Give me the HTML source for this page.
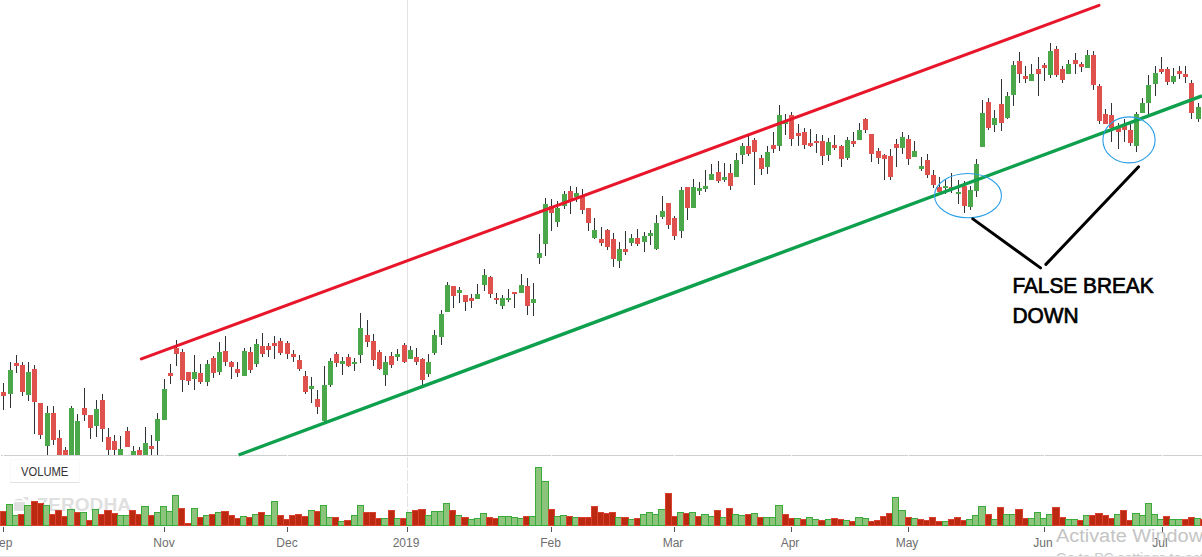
<!DOCTYPE html>
<html><head><meta charset="utf-8"><style>
html,body{margin:0;padding:0;background:#fff;width:1202px;height:557px;overflow:hidden}
svg{display:block;font-family:"Liberation Sans",sans-serif}
</style></head><body>
<svg width="1202" height="557" viewBox="0 0 1202 557">
<rect x="0" y="0" width="1202" height="557" fill="#fff"/>
<rect x="407" y="0" width="1" height="456" fill="#e3e3e3"/>
<line x1="407.5" y1="457" x2="407.5" y2="526" stroke="#e3e3e3" stroke-width="1" stroke-dasharray="11 2"/>
<g fill="#e0e0e0">
<path d="M14 500.6 Q19 496.6 24 500.6 Z"/>
<rect x="14" y="502" width="11" height="9"/>
<path d="M22.5 497 L28.2 497 L28.2 501.2 Z"/>
<text x="36.5" y="510.6" font-size="18.2" font-weight="bold" textLength="94.5" lengthAdjust="spacingAndGlyphs">ZERODHA</text>
</g>
<g>
<rect x="0.5" y="511.5" width="6" height="14" fill="#bb2a10" stroke="#d94030" stroke-width="1"/>
<rect x="6.5" y="504.5" width="6" height="21" fill="#8dc47b" stroke="#3aab3a" stroke-width="1"/>
<rect x="12.5" y="515.5" width="6" height="10" fill="#8dc47b" stroke="#3aab3a" stroke-width="1"/>
<rect x="18.5" y="514.5" width="6" height="11" fill="#bb2a10" stroke="#d94030" stroke-width="1"/>
<rect x="24.5" y="505.5" width="7" height="20" fill="#8dc47b" stroke="#3aab3a" stroke-width="1"/>
<rect x="31.5" y="501.5" width="6" height="24" fill="#bb2a10" stroke="#d94030" stroke-width="1"/>
<rect x="37.5" y="503.5" width="6" height="22" fill="#bb2a10" stroke="#d94030" stroke-width="1"/>
<rect x="43.5" y="505.5" width="6" height="20" fill="#8dc47b" stroke="#3aab3a" stroke-width="1"/>
<rect x="49.5" y="514.5" width="6" height="11" fill="#bb2a10" stroke="#d94030" stroke-width="1"/>
<rect x="55.5" y="510.5" width="6" height="15" fill="#bb2a10" stroke="#d94030" stroke-width="1"/>
<rect x="61.5" y="516.5" width="6" height="9" fill="#bb2a10" stroke="#d94030" stroke-width="1"/>
<rect x="67.5" y="509.5" width="7" height="16" fill="#8dc47b" stroke="#3aab3a" stroke-width="1"/>
<rect x="74.5" y="512.5" width="6" height="13" fill="#bb2a10" stroke="#d94030" stroke-width="1"/>
<rect x="80.5" y="512.5" width="6" height="13" fill="#8dc47b" stroke="#3aab3a" stroke-width="1"/>
<rect x="86.5" y="520.5" width="6" height="5" fill="#bb2a10" stroke="#d94030" stroke-width="1"/>
<rect x="92.5" y="509.5" width="6" height="16" fill="#8dc47b" stroke="#3aab3a" stroke-width="1"/>
<rect x="98.5" y="514.5" width="6" height="11" fill="#bb2a10" stroke="#d94030" stroke-width="1"/>
<rect x="104.5" y="510.5" width="7" height="15" fill="#bb2a10" stroke="#d94030" stroke-width="1"/>
<rect x="111.5" y="513.5" width="6" height="12" fill="#bb2a10" stroke="#d94030" stroke-width="1"/>
<rect x="117.5" y="515.5" width="6" height="10" fill="#8dc47b" stroke="#3aab3a" stroke-width="1"/>
<rect x="123.5" y="515.5" width="6" height="10" fill="#8dc47b" stroke="#3aab3a" stroke-width="1"/>
<rect x="129.5" y="510.5" width="6" height="15" fill="#bb2a10" stroke="#d94030" stroke-width="1"/>
<rect x="135.5" y="514.5" width="6" height="11" fill="#bb2a10" stroke="#d94030" stroke-width="1"/>
<rect x="141.5" y="506.5" width="7" height="19" fill="#8dc47b" stroke="#3aab3a" stroke-width="1"/>
<rect x="148.5" y="515.5" width="6" height="10" fill="#bb2a10" stroke="#d94030" stroke-width="1"/>
<rect x="154.5" y="512.5" width="6" height="13" fill="#8dc47b" stroke="#3aab3a" stroke-width="1"/>
<rect x="160.5" y="506.5" width="6" height="19" fill="#8dc47b" stroke="#3aab3a" stroke-width="1"/>
<rect x="166.5" y="511.5" width="6" height="14" fill="#8dc47b" stroke="#3aab3a" stroke-width="1"/>
<rect x="172.5" y="495.5" width="6" height="30" fill="#8dc47b" stroke="#3aab3a" stroke-width="1"/>
<rect x="178.5" y="508.5" width="6" height="17" fill="#bb2a10" stroke="#d94030" stroke-width="1"/>
<rect x="184.5" y="523.5" width="7" height="2" fill="#bb2a10" stroke="#d94030" stroke-width="1"/>
<rect x="191.5" y="508.5" width="6" height="17" fill="#8dc47b" stroke="#3aab3a" stroke-width="1"/>
<rect x="197.5" y="517.5" width="6" height="8" fill="#bb2a10" stroke="#d94030" stroke-width="1"/>
<rect x="203.5" y="515.5" width="6" height="10" fill="#8dc47b" stroke="#3aab3a" stroke-width="1"/>
<rect x="209.5" y="514.5" width="6" height="11" fill="#bb2a10" stroke="#d94030" stroke-width="1"/>
<rect x="215.5" y="512.5" width="6" height="13" fill="#8dc47b" stroke="#3aab3a" stroke-width="1"/>
<rect x="221.5" y="511.5" width="7" height="14" fill="#bb2a10" stroke="#d94030" stroke-width="1"/>
<rect x="228.5" y="515.5" width="6" height="10" fill="#bb2a10" stroke="#d94030" stroke-width="1"/>
<rect x="234.5" y="518.5" width="6" height="7" fill="#bb2a10" stroke="#d94030" stroke-width="1"/>
<rect x="240.5" y="516.5" width="6" height="9" fill="#8dc47b" stroke="#3aab3a" stroke-width="1"/>
<rect x="246.5" y="517.5" width="6" height="8" fill="#bb2a10" stroke="#d94030" stroke-width="1"/>
<rect x="252.5" y="514.5" width="6" height="11" fill="#8dc47b" stroke="#3aab3a" stroke-width="1"/>
<rect x="258.5" y="512.5" width="6" height="13" fill="#bb2a10" stroke="#d94030" stroke-width="1"/>
<rect x="264.5" y="515.5" width="7" height="10" fill="#8dc47b" stroke="#3aab3a" stroke-width="1"/>
<rect x="271.5" y="501.5" width="6" height="24" fill="#8dc47b" stroke="#3aab3a" stroke-width="1"/>
<rect x="277.5" y="515.5" width="6" height="10" fill="#bb2a10" stroke="#d94030" stroke-width="1"/>
<rect x="283.5" y="519.5" width="6" height="6" fill="#bb2a10" stroke="#d94030" stroke-width="1"/>
<rect x="289.5" y="515.5" width="6" height="10" fill="#bb2a10" stroke="#d94030" stroke-width="1"/>
<rect x="295.5" y="514.5" width="6" height="11" fill="#bb2a10" stroke="#d94030" stroke-width="1"/>
<rect x="301.5" y="516.5" width="7" height="9" fill="#bb2a10" stroke="#d94030" stroke-width="1"/>
<rect x="308.5" y="510.5" width="6" height="15" fill="#8dc47b" stroke="#3aab3a" stroke-width="1"/>
<rect x="314.5" y="511.5" width="6" height="14" fill="#bb2a10" stroke="#d94030" stroke-width="1"/>
<rect x="320.5" y="505.5" width="6" height="20" fill="#8dc47b" stroke="#3aab3a" stroke-width="1"/>
<rect x="326.5" y="517.5" width="6" height="8" fill="#8dc47b" stroke="#3aab3a" stroke-width="1"/>
<rect x="332.5" y="517.5" width="6" height="8" fill="#bb2a10" stroke="#d94030" stroke-width="1"/>
<rect x="338.5" y="521.5" width="6" height="4" fill="#8dc47b" stroke="#3aab3a" stroke-width="1"/>
<rect x="344.5" y="520.5" width="7" height="5" fill="#bb2a10" stroke="#d94030" stroke-width="1"/>
<rect x="351.5" y="515.5" width="6" height="10" fill="#8dc47b" stroke="#3aab3a" stroke-width="1"/>
<rect x="357.5" y="505.5" width="6" height="20" fill="#8dc47b" stroke="#3aab3a" stroke-width="1"/>
<rect x="363.5" y="512.5" width="6" height="13" fill="#bb2a10" stroke="#d94030" stroke-width="1"/>
<rect x="369.5" y="512.5" width="6" height="13" fill="#bb2a10" stroke="#d94030" stroke-width="1"/>
<rect x="375.5" y="518.5" width="6" height="7" fill="#bb2a10" stroke="#d94030" stroke-width="1"/>
<rect x="381.5" y="518.5" width="7" height="7" fill="#8dc47b" stroke="#3aab3a" stroke-width="1"/>
<rect x="388.5" y="510.5" width="6" height="15" fill="#bb2a10" stroke="#d94030" stroke-width="1"/>
<rect x="394.5" y="518.5" width="6" height="7" fill="#8dc47b" stroke="#3aab3a" stroke-width="1"/>
<rect x="400.5" y="518.5" width="6" height="7" fill="#bb2a10" stroke="#d94030" stroke-width="1"/>
<rect x="406.5" y="512.5" width="6" height="13" fill="#8dc47b" stroke="#3aab3a" stroke-width="1"/>
<rect x="412.5" y="510.5" width="6" height="15" fill="#bb2a10" stroke="#d94030" stroke-width="1"/>
<rect x="418.5" y="509.5" width="7" height="16" fill="#bb2a10" stroke="#d94030" stroke-width="1"/>
<rect x="425.5" y="515.5" width="6" height="10" fill="#8dc47b" stroke="#3aab3a" stroke-width="1"/>
<rect x="431.5" y="511.5" width="6" height="14" fill="#8dc47b" stroke="#3aab3a" stroke-width="1"/>
<rect x="437.5" y="511.5" width="6" height="14" fill="#8dc47b" stroke="#3aab3a" stroke-width="1"/>
<rect x="443.5" y="503.5" width="6" height="22" fill="#8dc47b" stroke="#3aab3a" stroke-width="1"/>
<rect x="449.5" y="510.5" width="6" height="15" fill="#bb2a10" stroke="#d94030" stroke-width="1"/>
<rect x="455.5" y="515.5" width="6" height="10" fill="#8dc47b" stroke="#3aab3a" stroke-width="1"/>
<rect x="461.5" y="517.5" width="7" height="8" fill="#bb2a10" stroke="#d94030" stroke-width="1"/>
<rect x="468.5" y="519.5" width="6" height="6" fill="#8dc47b" stroke="#3aab3a" stroke-width="1"/>
<rect x="474.5" y="518.5" width="6" height="7" fill="#8dc47b" stroke="#3aab3a" stroke-width="1"/>
<rect x="480.5" y="513.5" width="6" height="12" fill="#8dc47b" stroke="#3aab3a" stroke-width="1"/>
<rect x="486.5" y="517.5" width="6" height="8" fill="#bb2a10" stroke="#d94030" stroke-width="1"/>
<rect x="492.5" y="518.5" width="6" height="7" fill="#bb2a10" stroke="#d94030" stroke-width="1"/>
<rect x="498.5" y="516.5" width="7" height="9" fill="#8dc47b" stroke="#3aab3a" stroke-width="1"/>
<rect x="505.5" y="516.5" width="6" height="9" fill="#8dc47b" stroke="#3aab3a" stroke-width="1"/>
<rect x="511.5" y="517.5" width="6" height="8" fill="#8dc47b" stroke="#3aab3a" stroke-width="1"/>
<rect x="517.5" y="518.5" width="6" height="7" fill="#8dc47b" stroke="#3aab3a" stroke-width="1"/>
<rect x="523.5" y="516.5" width="6" height="9" fill="#bb2a10" stroke="#d94030" stroke-width="1"/>
<rect x="529.5" y="516.5" width="6" height="9" fill="#8dc47b" stroke="#3aab3a" stroke-width="1"/>
<rect x="535.5" y="467.5" width="6" height="58" fill="#8dc47b" stroke="#3aab3a" stroke-width="1"/>
<rect x="541.5" y="481.5" width="7" height="44" fill="#8dc47b" stroke="#3aab3a" stroke-width="1"/>
<rect x="548.5" y="509.5" width="6" height="16" fill="#bb2a10" stroke="#d94030" stroke-width="1"/>
<rect x="554.5" y="516.5" width="6" height="9" fill="#8dc47b" stroke="#3aab3a" stroke-width="1"/>
<rect x="560.5" y="515.5" width="6" height="10" fill="#8dc47b" stroke="#3aab3a" stroke-width="1"/>
<rect x="566.5" y="516.5" width="6" height="9" fill="#bb2a10" stroke="#d94030" stroke-width="1"/>
<rect x="572.5" y="517.5" width="6" height="8" fill="#8dc47b" stroke="#3aab3a" stroke-width="1"/>
<rect x="578.5" y="517.5" width="7" height="8" fill="#bb2a10" stroke="#d94030" stroke-width="1"/>
<rect x="585.5" y="517.5" width="6" height="8" fill="#bb2a10" stroke="#d94030" stroke-width="1"/>
<rect x="591.5" y="506.5" width="6" height="19" fill="#bb2a10" stroke="#d94030" stroke-width="1"/>
<rect x="597.5" y="512.5" width="6" height="13" fill="#bb2a10" stroke="#d94030" stroke-width="1"/>
<rect x="603.5" y="513.5" width="6" height="12" fill="#bb2a10" stroke="#d94030" stroke-width="1"/>
<rect x="609.5" y="512.5" width="6" height="13" fill="#bb2a10" stroke="#d94030" stroke-width="1"/>
<rect x="615.5" y="517.5" width="6" height="8" fill="#8dc47b" stroke="#3aab3a" stroke-width="1"/>
<rect x="621.5" y="517.5" width="7" height="8" fill="#bb2a10" stroke="#d94030" stroke-width="1"/>
<rect x="628.5" y="519.5" width="6" height="6" fill="#8dc47b" stroke="#3aab3a" stroke-width="1"/>
<rect x="634.5" y="518.5" width="6" height="7" fill="#bb2a10" stroke="#d94030" stroke-width="1"/>
<rect x="640.5" y="514.5" width="6" height="11" fill="#8dc47b" stroke="#3aab3a" stroke-width="1"/>
<rect x="646.5" y="512.5" width="6" height="13" fill="#8dc47b" stroke="#3aab3a" stroke-width="1"/>
<rect x="652.5" y="514.5" width="6" height="11" fill="#8dc47b" stroke="#3aab3a" stroke-width="1"/>
<rect x="658.5" y="509.5" width="7" height="16" fill="#8dc47b" stroke="#3aab3a" stroke-width="1"/>
<rect x="665.5" y="493.5" width="6" height="32" fill="#bb2a10" stroke="#d94030" stroke-width="1"/>
<rect x="671.5" y="516.5" width="6" height="9" fill="#bb2a10" stroke="#d94030" stroke-width="1"/>
<rect x="677.5" y="512.5" width="6" height="13" fill="#8dc47b" stroke="#3aab3a" stroke-width="1"/>
<rect x="683.5" y="513.5" width="6" height="12" fill="#bb2a10" stroke="#d94030" stroke-width="1"/>
<rect x="689.5" y="512.5" width="6" height="13" fill="#8dc47b" stroke="#3aab3a" stroke-width="1"/>
<rect x="695.5" y="516.5" width="6" height="9" fill="#bb2a10" stroke="#d94030" stroke-width="1"/>
<rect x="701.5" y="514.5" width="7" height="11" fill="#8dc47b" stroke="#3aab3a" stroke-width="1"/>
<rect x="708.5" y="516.5" width="6" height="9" fill="#8dc47b" stroke="#3aab3a" stroke-width="1"/>
<rect x="714.5" y="510.5" width="6" height="15" fill="#bb2a10" stroke="#d94030" stroke-width="1"/>
<rect x="720.5" y="517.5" width="6" height="8" fill="#8dc47b" stroke="#3aab3a" stroke-width="1"/>
<rect x="726.5" y="508.5" width="6" height="17" fill="#bb2a10" stroke="#d94030" stroke-width="1"/>
<rect x="732.5" y="514.5" width="6" height="11" fill="#8dc47b" stroke="#3aab3a" stroke-width="1"/>
<rect x="738.5" y="515.5" width="7" height="10" fill="#8dc47b" stroke="#3aab3a" stroke-width="1"/>
<rect x="745.5" y="514.5" width="6" height="11" fill="#bb2a10" stroke="#d94030" stroke-width="1"/>
<rect x="751.5" y="513.5" width="6" height="12" fill="#8dc47b" stroke="#3aab3a" stroke-width="1"/>
<rect x="757.5" y="517.5" width="6" height="8" fill="#bb2a10" stroke="#d94030" stroke-width="1"/>
<rect x="763.5" y="517.5" width="6" height="8" fill="#8dc47b" stroke="#3aab3a" stroke-width="1"/>
<rect x="769.5" y="517.5" width="6" height="8" fill="#8dc47b" stroke="#3aab3a" stroke-width="1"/>
<rect x="775.5" y="505.5" width="7" height="20" fill="#8dc47b" stroke="#3aab3a" stroke-width="1"/>
<rect x="782.5" y="514.5" width="6" height="11" fill="#bb2a10" stroke="#d94030" stroke-width="1"/>
<rect x="788.5" y="518.5" width="6" height="7" fill="#bb2a10" stroke="#d94030" stroke-width="1"/>
<rect x="794.5" y="518.5" width="6" height="7" fill="#8dc47b" stroke="#3aab3a" stroke-width="1"/>
<rect x="800.5" y="519.5" width="6" height="6" fill="#bb2a10" stroke="#d94030" stroke-width="1"/>
<rect x="806.5" y="517.5" width="6" height="8" fill="#8dc47b" stroke="#3aab3a" stroke-width="1"/>
<rect x="812.5" y="519.5" width="6" height="6" fill="#8dc47b" stroke="#3aab3a" stroke-width="1"/>
<rect x="818.5" y="520.5" width="7" height="5" fill="#bb2a10" stroke="#d94030" stroke-width="1"/>
<rect x="825.5" y="519.5" width="6" height="6" fill="#8dc47b" stroke="#3aab3a" stroke-width="1"/>
<rect x="831.5" y="518.5" width="6" height="7" fill="#bb2a10" stroke="#d94030" stroke-width="1"/>
<rect x="837.5" y="519.5" width="6" height="6" fill="#bb2a10" stroke="#d94030" stroke-width="1"/>
<rect x="843.5" y="520.5" width="6" height="5" fill="#8dc47b" stroke="#3aab3a" stroke-width="1"/>
<rect x="849.5" y="521.5" width="6" height="4" fill="#bb2a10" stroke="#d94030" stroke-width="1"/>
<rect x="855.5" y="517.5" width="7" height="8" fill="#8dc47b" stroke="#3aab3a" stroke-width="1"/>
<rect x="862.5" y="518.5" width="6" height="7" fill="#8dc47b" stroke="#3aab3a" stroke-width="1"/>
<rect x="868.5" y="521.5" width="6" height="4" fill="#bb2a10" stroke="#d94030" stroke-width="1"/>
<rect x="874.5" y="520.5" width="6" height="5" fill="#bb2a10" stroke="#d94030" stroke-width="1"/>
<rect x="880.5" y="516.5" width="6" height="9" fill="#bb2a10" stroke="#d94030" stroke-width="1"/>
<rect x="886.5" y="513.5" width="6" height="12" fill="#bb2a10" stroke="#d94030" stroke-width="1"/>
<rect x="892.5" y="497.5" width="6" height="28" fill="#8dc47b" stroke="#3aab3a" stroke-width="1"/>
<rect x="898.5" y="510.5" width="7" height="15" fill="#8dc47b" stroke="#3aab3a" stroke-width="1"/>
<rect x="905.5" y="517.5" width="6" height="8" fill="#bb2a10" stroke="#d94030" stroke-width="1"/>
<rect x="911.5" y="518.5" width="6" height="7" fill="#8dc47b" stroke="#3aab3a" stroke-width="1"/>
<rect x="917.5" y="519.5" width="6" height="6" fill="#bb2a10" stroke="#d94030" stroke-width="1"/>
<rect x="923.5" y="520.5" width="6" height="5" fill="#bb2a10" stroke="#d94030" stroke-width="1"/>
<rect x="929.5" y="517.5" width="6" height="8" fill="#bb2a10" stroke="#d94030" stroke-width="1"/>
<rect x="935.5" y="521.5" width="7" height="4" fill="#bb2a10" stroke="#d94030" stroke-width="1"/>
<rect x="942.5" y="521.5" width="6" height="4" fill="#8dc47b" stroke="#3aab3a" stroke-width="1"/>
<rect x="948.5" y="519.5" width="6" height="6" fill="#bb2a10" stroke="#d94030" stroke-width="1"/>
<rect x="954.5" y="517.5" width="6" height="8" fill="#bb2a10" stroke="#d94030" stroke-width="1"/>
<rect x="960.5" y="520.5" width="6" height="5" fill="#bb2a10" stroke="#d94030" stroke-width="1"/>
<rect x="966.5" y="519.5" width="6" height="6" fill="#8dc47b" stroke="#3aab3a" stroke-width="1"/>
<rect x="972.5" y="515.5" width="6" height="10" fill="#8dc47b" stroke="#3aab3a" stroke-width="1"/>
<rect x="978.5" y="506.5" width="7" height="19" fill="#8dc47b" stroke="#3aab3a" stroke-width="1"/>
<rect x="985.5" y="514.5" width="6" height="11" fill="#bb2a10" stroke="#d94030" stroke-width="1"/>
<rect x="991.5" y="519.5" width="6" height="6" fill="#8dc47b" stroke="#3aab3a" stroke-width="1"/>
<rect x="997.5" y="507.5" width="6" height="18" fill="#bb2a10" stroke="#d94030" stroke-width="1"/>
<rect x="1003.5" y="514.5" width="6" height="11" fill="#8dc47b" stroke="#3aab3a" stroke-width="1"/>
<rect x="1009.5" y="514.5" width="6" height="11" fill="#8dc47b" stroke="#3aab3a" stroke-width="1"/>
<rect x="1015.5" y="509.5" width="7" height="16" fill="#bb2a10" stroke="#d94030" stroke-width="1"/>
<rect x="1022.5" y="518.5" width="6" height="7" fill="#bb2a10" stroke="#d94030" stroke-width="1"/>
<rect x="1028.5" y="518.5" width="6" height="7" fill="#8dc47b" stroke="#3aab3a" stroke-width="1"/>
<rect x="1034.5" y="512.5" width="6" height="13" fill="#8dc47b" stroke="#3aab3a" stroke-width="1"/>
<rect x="1040.5" y="518.5" width="6" height="7" fill="#8dc47b" stroke="#3aab3a" stroke-width="1"/>
<rect x="1046.5" y="514.5" width="6" height="11" fill="#8dc47b" stroke="#3aab3a" stroke-width="1"/>
<rect x="1052.5" y="507.5" width="7" height="18" fill="#bb2a10" stroke="#d94030" stroke-width="1"/>
<rect x="1059.5" y="517.5" width="6" height="8" fill="#bb2a10" stroke="#d94030" stroke-width="1"/>
<rect x="1065.5" y="519.5" width="6" height="6" fill="#8dc47b" stroke="#3aab3a" stroke-width="1"/>
<rect x="1071.5" y="519.5" width="6" height="6" fill="#8dc47b" stroke="#3aab3a" stroke-width="1"/>
<rect x="1077.5" y="520.5" width="6" height="5" fill="#bb2a10" stroke="#d94030" stroke-width="1"/>
<rect x="1083.5" y="515.5" width="6" height="10" fill="#8dc47b" stroke="#3aab3a" stroke-width="1"/>
<rect x="1089.5" y="515.5" width="6" height="10" fill="#bb2a10" stroke="#d94030" stroke-width="1"/>
<rect x="1095.5" y="513.5" width="7" height="12" fill="#bb2a10" stroke="#d94030" stroke-width="1"/>
<rect x="1102.5" y="515.5" width="6" height="10" fill="#bb2a10" stroke="#d94030" stroke-width="1"/>
<rect x="1108.5" y="518.5" width="6" height="7" fill="#bb2a10" stroke="#d94030" stroke-width="1"/>
<rect x="1114.5" y="514.5" width="6" height="11" fill="#8dc47b" stroke="#3aab3a" stroke-width="1"/>
<rect x="1120.5" y="510.5" width="6" height="15" fill="#bb2a10" stroke="#d94030" stroke-width="1"/>
<rect x="1126.5" y="520.5" width="6" height="5" fill="#bb2a10" stroke="#d94030" stroke-width="1"/>
<rect x="1132.5" y="513.5" width="7" height="12" fill="#8dc47b" stroke="#3aab3a" stroke-width="1"/>
<rect x="1139.5" y="515.5" width="6" height="10" fill="#8dc47b" stroke="#3aab3a" stroke-width="1"/>
<rect x="1145.5" y="503.5" width="6" height="22" fill="#8dc47b" stroke="#3aab3a" stroke-width="1"/>
<rect x="1151.5" y="514.5" width="6" height="11" fill="#8dc47b" stroke="#3aab3a" stroke-width="1"/>
<rect x="1157.5" y="519.5" width="6" height="6" fill="#8dc47b" stroke="#3aab3a" stroke-width="1"/>
<rect x="1163.5" y="516.5" width="6" height="9" fill="#bb2a10" stroke="#d94030" stroke-width="1"/>
<rect x="1169.5" y="519.5" width="6" height="6" fill="#8dc47b" stroke="#3aab3a" stroke-width="1"/>
<rect x="1175.5" y="519.5" width="7" height="6" fill="#8dc47b" stroke="#3aab3a" stroke-width="1"/>
<rect x="1182.5" y="519.5" width="6" height="6" fill="#bb2a10" stroke="#d94030" stroke-width="1"/>
<rect x="1188.5" y="517.5" width="6" height="8" fill="#bb2a10" stroke="#d94030" stroke-width="1"/>
<rect x="1194.5" y="518.5" width="6" height="7" fill="#8dc47b" stroke="#3aab3a" stroke-width="1"/>
<rect x="1200.5" y="519.5" width="6" height="6" fill="#bb2a10" stroke="#d94030" stroke-width="1"/>
</g>
<rect x="1" y="455" width="1201" height="1" fill="#cfcfcf"/>
<g fill="#fff"><rect x="3" y="455" width="1" height="1"/><rect x="164" y="455" width="1" height="1"/><rect x="287" y="455" width="1" height="1"/><rect x="551" y="455" width="1" height="1"/><rect x="674" y="455" width="1" height="1"/><rect x="791" y="455" width="1" height="1"/><rect x="908" y="455" width="1" height="1"/><rect x="1044" y="455" width="1" height="1"/><rect x="1162" y="455" width="1" height="1"/></g>
<g>
<rect x="3" y="383" width="1" height="27" fill="#2e3338"/>
<rect x="1" y="392" width="5" height="4" fill="#df514c"/>
<rect x="10" y="362" width="1" height="46" fill="#2e3338"/>
<rect x="8" y="370" width="5" height="24" fill="#4aa84a"/>
<rect x="16" y="355" width="1" height="18" fill="#2e3338"/>
<rect x="14" y="363" width="5" height="3" fill="#df514c"/>
<rect x="22" y="362" width="1" height="34" fill="#2e3338"/>
<rect x="20" y="365" width="5" height="27" fill="#df514c"/>
<rect x="28" y="362" width="1" height="39" fill="#2e3338"/>
<rect x="26" y="372" width="5" height="23" fill="#4aa84a"/>
<rect x="34" y="365" width="1" height="69" fill="#2e3338"/>
<rect x="32" y="369" width="5" height="33" fill="#df514c"/>
<rect x="40" y="403" width="1" height="36" fill="#2e3338"/>
<rect x="38" y="403" width="5" height="32" fill="#df514c"/>
<rect x="47" y="406" width="1" height="49" fill="#2e3338"/>
<rect x="45" y="413" width="5" height="33" fill="#4aa84a"/>
<rect x="53" y="406" width="1" height="39" fill="#2e3338"/>
<rect x="51" y="413" width="5" height="27" fill="#df514c"/>
<rect x="59" y="430" width="1" height="25" fill="#2e3338"/>
<rect x="57" y="438" width="5" height="17" fill="#df514c"/>
<rect x="65" y="447" width="1" height="8" fill="#2e3338"/>
<rect x="63" y="450" width="5" height="5" fill="#df514c"/>
<rect x="71" y="406" width="1" height="49" fill="#2e3338"/>
<rect x="69" y="408" width="5" height="47" fill="#4aa84a"/>
<rect x="77" y="414" width="1" height="41" fill="#2e3338"/>
<rect x="75" y="421" width="5" height="34" fill="#4aa84a"/>
<rect x="84" y="388" width="1" height="33" fill="#2e3338"/>
<rect x="82" y="408" width="5" height="7" fill="#df514c"/>
<rect x="90" y="415" width="1" height="24" fill="#2e3338"/>
<rect x="88" y="415" width="5" height="13" fill="#df514c"/>
<rect x="96" y="400" width="1" height="37" fill="#2e3338"/>
<rect x="94" y="409" width="5" height="17" fill="#4aa84a"/>
<rect x="102" y="394" width="1" height="48" fill="#2e3338"/>
<rect x="100" y="400" width="5" height="29" fill="#df514c"/>
<rect x="108" y="428" width="1" height="27" fill="#2e3338"/>
<rect x="106" y="437" width="5" height="13" fill="#df514c"/>
<rect x="114" y="435" width="1" height="20" fill="#2e3338"/>
<rect x="112" y="441" width="5" height="9" fill="#df514c"/>
<rect x="120" y="436" width="1" height="19" fill="#2e3338"/>
<rect x="118" y="449" width="5" height="6" fill="#4aa84a"/>
<rect x="127" y="427" width="1" height="20" fill="#2e3338"/>
<rect x="125" y="431" width="5" height="16" fill="#df514c"/>
<rect x="133" y="446" width="1" height="9" fill="#2e3338"/>
<rect x="131" y="451" width="5" height="4" fill="#4aa84a"/>
<rect x="139" y="447" width="1" height="8" fill="#2e3338"/>
<rect x="137" y="450" width="5" height="5" fill="#df514c"/>
<rect x="145" y="427" width="1" height="28" fill="#2e3338"/>
<rect x="143" y="443" width="5" height="12" fill="#4aa84a"/>
<rect x="151" y="435" width="1" height="20" fill="#2e3338"/>
<rect x="149" y="446" width="5" height="3" fill="#df514c"/>
<rect x="157" y="413" width="1" height="42" fill="#2e3338"/>
<rect x="155" y="419" width="5" height="22" fill="#4aa84a"/>
<rect x="164" y="379" width="1" height="41" fill="#2e3338"/>
<rect x="162" y="389" width="5" height="31" fill="#4aa84a"/>
<rect x="170" y="364" width="1" height="20" fill="#2e3338"/>
<rect x="168" y="373" width="5" height="3" fill="#df514c"/>
<rect x="176" y="340" width="1" height="26" fill="#2e3338"/>
<rect x="174" y="348" width="5" height="6" fill="#df514c"/>
<rect x="182" y="349" width="1" height="43" fill="#2e3338"/>
<rect x="180" y="352" width="5" height="28" fill="#df514c"/>
<rect x="188" y="372" width="1" height="13" fill="#2e3338"/>
<rect x="186" y="372" width="5" height="9" fill="#df514c"/>
<rect x="194" y="355" width="1" height="35" fill="#2e3338"/>
<rect x="192" y="372" width="5" height="7" fill="#4aa84a"/>
<rect x="200" y="364" width="1" height="20" fill="#2e3338"/>
<rect x="198" y="373" width="5" height="9" fill="#df514c"/>
<rect x="207" y="360" width="1" height="26" fill="#2e3338"/>
<rect x="205" y="364" width="5" height="18" fill="#4aa84a"/>
<rect x="213" y="356" width="1" height="22" fill="#2e3338"/>
<rect x="211" y="358" width="5" height="15" fill="#df514c"/>
<rect x="219" y="342" width="1" height="33" fill="#2e3338"/>
<rect x="217" y="352" width="5" height="20" fill="#4aa84a"/>
<rect x="225" y="336" width="1" height="30" fill="#2e3338"/>
<rect x="223" y="351" width="5" height="11" fill="#df514c"/>
<rect x="231" y="361" width="1" height="18" fill="#2e3338"/>
<rect x="229" y="362" width="5" height="5" fill="#df514c"/>
<rect x="237" y="362" width="1" height="15" fill="#2e3338"/>
<rect x="235" y="369" width="5" height="4" fill="#df514c"/>
<rect x="244" y="348" width="1" height="28" fill="#2e3338"/>
<rect x="242" y="351" width="5" height="25" fill="#4aa84a"/>
<rect x="250" y="347" width="1" height="26" fill="#2e3338"/>
<rect x="248" y="352" width="5" height="18" fill="#df514c"/>
<rect x="256" y="339" width="1" height="28" fill="#2e3338"/>
<rect x="254" y="344" width="5" height="20" fill="#4aa84a"/>
<rect x="262" y="333" width="1" height="24" fill="#2e3338"/>
<rect x="260" y="346" width="5" height="8" fill="#df514c"/>
<rect x="268" y="343" width="1" height="14" fill="#2e3338"/>
<rect x="266" y="346" width="5" height="4" fill="#df514c"/>
<rect x="274" y="336" width="1" height="23" fill="#2e3338"/>
<rect x="272" y="343" width="5" height="3" fill="#df514c"/>
<rect x="280" y="338" width="1" height="17" fill="#2e3338"/>
<rect x="278" y="341" width="5" height="12" fill="#df514c"/>
<rect x="287" y="341" width="1" height="18" fill="#2e3338"/>
<rect x="285" y="343" width="5" height="11" fill="#df514c"/>
<rect x="293" y="350" width="1" height="12" fill="#2e3338"/>
<rect x="291" y="354" width="5" height="3" fill="#df514c"/>
<rect x="299" y="355" width="1" height="16" fill="#2e3338"/>
<rect x="297" y="360" width="5" height="9" fill="#df514c"/>
<rect x="305" y="371" width="1" height="23" fill="#2e3338"/>
<rect x="303" y="376" width="5" height="16" fill="#df514c"/>
<rect x="311" y="377" width="1" height="26" fill="#2e3338"/>
<rect x="309" y="386" width="5" height="3" fill="#4aa84a"/>
<rect x="317" y="390" width="1" height="24" fill="#2e3338"/>
<rect x="315" y="399" width="5" height="8" fill="#df514c"/>
<rect x="324" y="366" width="1" height="56" fill="#2e3338"/>
<rect x="322" y="385" width="5" height="36" fill="#4aa84a"/>
<rect x="330" y="358" width="1" height="29" fill="#2e3338"/>
<rect x="328" y="361" width="5" height="24" fill="#4aa84a"/>
<rect x="336" y="352" width="1" height="15" fill="#2e3338"/>
<rect x="334" y="354" width="5" height="9" fill="#df514c"/>
<rect x="342" y="357" width="1" height="18" fill="#2e3338"/>
<rect x="340" y="361" width="5" height="3" fill="#4aa84a"/>
<rect x="348" y="354" width="1" height="13" fill="#2e3338"/>
<rect x="346" y="357" width="5" height="9" fill="#df514c"/>
<rect x="354" y="358" width="1" height="13" fill="#2e3338"/>
<rect x="352" y="362" width="5" height="2" fill="#4aa84a"/>
<rect x="360" y="313" width="1" height="50" fill="#2e3338"/>
<rect x="358" y="328" width="5" height="27" fill="#4aa84a"/>
<rect x="367" y="320" width="1" height="27" fill="#2e3338"/>
<rect x="365" y="335" width="5" height="7" fill="#df514c"/>
<rect x="373" y="334" width="1" height="32" fill="#2e3338"/>
<rect x="371" y="341" width="5" height="19" fill="#df514c"/>
<rect x="379" y="350" width="1" height="20" fill="#2e3338"/>
<rect x="377" y="352" width="5" height="17" fill="#df514c"/>
<rect x="385" y="356" width="1" height="30" fill="#2e3338"/>
<rect x="383" y="362" width="5" height="13" fill="#4aa84a"/>
<rect x="391" y="352" width="1" height="16" fill="#2e3338"/>
<rect x="389" y="356" width="5" height="9" fill="#df514c"/>
<rect x="397" y="349" width="1" height="12" fill="#2e3338"/>
<rect x="395" y="354" width="5" height="3" fill="#4aa84a"/>
<rect x="404" y="343" width="1" height="20" fill="#2e3338"/>
<rect x="402" y="345" width="5" height="17" fill="#df514c"/>
<rect x="410" y="346" width="1" height="13" fill="#2e3338"/>
<rect x="408" y="350" width="5" height="9" fill="#4aa84a"/>
<rect x="416" y="348" width="1" height="17" fill="#2e3338"/>
<rect x="414" y="357" width="5" height="5" fill="#df514c"/>
<rect x="422" y="358" width="1" height="27" fill="#2e3338"/>
<rect x="420" y="359" width="5" height="21" fill="#df514c"/>
<rect x="428" y="354" width="1" height="23" fill="#2e3338"/>
<rect x="426" y="362" width="5" height="12" fill="#4aa84a"/>
<rect x="434" y="330" width="1" height="25" fill="#2e3338"/>
<rect x="432" y="335" width="5" height="18" fill="#4aa84a"/>
<rect x="441" y="310" width="1" height="35" fill="#2e3338"/>
<rect x="439" y="314" width="5" height="23" fill="#4aa84a"/>
<rect x="447" y="282" width="1" height="30" fill="#2e3338"/>
<rect x="445" y="285" width="5" height="27" fill="#4aa84a"/>
<rect x="453" y="286" width="1" height="22" fill="#2e3338"/>
<rect x="451" y="286" width="5" height="10" fill="#df514c"/>
<rect x="459" y="287" width="1" height="16" fill="#2e3338"/>
<rect x="457" y="290" width="5" height="3" fill="#4aa84a"/>
<rect x="465" y="295" width="1" height="16" fill="#2e3338"/>
<rect x="463" y="295" width="5" height="7" fill="#df514c"/>
<rect x="471" y="294" width="1" height="14" fill="#2e3338"/>
<rect x="469" y="298" width="5" height="3" fill="#df514c"/>
<rect x="477" y="284" width="1" height="15" fill="#2e3338"/>
<rect x="475" y="294" width="5" height="5" fill="#4aa84a"/>
<rect x="484" y="269" width="1" height="22" fill="#2e3338"/>
<rect x="482" y="275" width="5" height="10" fill="#4aa84a"/>
<rect x="490" y="276" width="1" height="22" fill="#2e3338"/>
<rect x="488" y="277" width="5" height="17" fill="#df514c"/>
<rect x="496" y="293" width="1" height="11" fill="#2e3338"/>
<rect x="494" y="298" width="5" height="2" fill="#df514c"/>
<rect x="502" y="295" width="1" height="14" fill="#2e3338"/>
<rect x="500" y="298" width="5" height="8" fill="#4aa84a"/>
<rect x="508" y="289" width="1" height="13" fill="#2e3338"/>
<rect x="506" y="298" width="5" height="2" fill="#4aa84a"/>
<rect x="514" y="292" width="1" height="16" fill="#2e3338"/>
<rect x="512" y="292" width="5" height="2" fill="#df514c"/>
<rect x="521" y="274" width="1" height="19" fill="#2e3338"/>
<rect x="519" y="285" width="5" height="8" fill="#4aa84a"/>
<rect x="527" y="278" width="1" height="37" fill="#2e3338"/>
<rect x="525" y="286" width="5" height="20" fill="#df514c"/>
<rect x="533" y="283" width="1" height="33" fill="#2e3338"/>
<rect x="531" y="299" width="5" height="4" fill="#4aa84a"/>
<rect x="539" y="234" width="1" height="30" fill="#2e3338"/>
<rect x="537" y="253" width="5" height="5" fill="#4aa84a"/>
<rect x="545" y="198" width="1" height="58" fill="#2e3338"/>
<rect x="543" y="204" width="5" height="40" fill="#4aa84a"/>
<rect x="551" y="199" width="1" height="32" fill="#2e3338"/>
<rect x="549" y="206" width="5" height="7" fill="#df514c"/>
<rect x="557" y="201" width="1" height="26" fill="#2e3338"/>
<rect x="555" y="208" width="5" height="14" fill="#4aa84a"/>
<rect x="564" y="191" width="1" height="18" fill="#2e3338"/>
<rect x="562" y="194" width="5" height="12" fill="#4aa84a"/>
<rect x="570" y="186" width="1" height="28" fill="#2e3338"/>
<rect x="568" y="191" width="5" height="9" fill="#df514c"/>
<rect x="576" y="187" width="1" height="15" fill="#2e3338"/>
<rect x="574" y="193" width="5" height="4" fill="#4aa84a"/>
<rect x="582" y="189" width="1" height="25" fill="#2e3338"/>
<rect x="580" y="197" width="5" height="13" fill="#df514c"/>
<rect x="588" y="208" width="1" height="23" fill="#2e3338"/>
<rect x="586" y="208" width="5" height="15" fill="#df514c"/>
<rect x="594" y="218" width="1" height="21" fill="#2e3338"/>
<rect x="592" y="230" width="5" height="8" fill="#4aa84a"/>
<rect x="601" y="227" width="1" height="19" fill="#2e3338"/>
<rect x="599" y="239" width="5" height="4" fill="#df514c"/>
<rect x="607" y="229" width="1" height="21" fill="#2e3338"/>
<rect x="605" y="230" width="5" height="17" fill="#df514c"/>
<rect x="613" y="233" width="1" height="34" fill="#2e3338"/>
<rect x="611" y="239" width="5" height="20" fill="#df514c"/>
<rect x="619" y="242" width="1" height="26" fill="#2e3338"/>
<rect x="617" y="249" width="5" height="12" fill="#4aa84a"/>
<rect x="625" y="231" width="1" height="24" fill="#2e3338"/>
<rect x="623" y="249" width="5" height="3" fill="#df514c"/>
<rect x="631" y="234" width="1" height="12" fill="#2e3338"/>
<rect x="629" y="238" width="5" height="5" fill="#4aa84a"/>
<rect x="637" y="229" width="1" height="17" fill="#2e3338"/>
<rect x="635" y="238" width="5" height="6" fill="#df514c"/>
<rect x="644" y="232" width="1" height="20" fill="#2e3338"/>
<rect x="642" y="236" width="5" height="6" fill="#4aa84a"/>
<rect x="650" y="230" width="1" height="15" fill="#2e3338"/>
<rect x="648" y="233" width="5" height="3" fill="#4aa84a"/>
<rect x="656" y="215" width="1" height="35" fill="#2e3338"/>
<rect x="654" y="223" width="5" height="26" fill="#4aa84a"/>
<rect x="662" y="196" width="1" height="23" fill="#2e3338"/>
<rect x="660" y="211" width="5" height="6" fill="#4aa84a"/>
<rect x="668" y="203" width="1" height="26" fill="#2e3338"/>
<rect x="666" y="203" width="5" height="22" fill="#df514c"/>
<rect x="674" y="216" width="1" height="24" fill="#2e3338"/>
<rect x="672" y="218" width="5" height="18" fill="#df514c"/>
<rect x="681" y="187" width="1" height="51" fill="#2e3338"/>
<rect x="679" y="190" width="5" height="41" fill="#4aa84a"/>
<rect x="687" y="187" width="1" height="33" fill="#2e3338"/>
<rect x="685" y="187" width="5" height="21" fill="#df514c"/>
<rect x="693" y="179" width="1" height="29" fill="#2e3338"/>
<rect x="691" y="187" width="5" height="21" fill="#4aa84a"/>
<rect x="699" y="182" width="1" height="13" fill="#2e3338"/>
<rect x="697" y="188" width="5" height="3" fill="#4aa84a"/>
<rect x="705" y="170" width="1" height="22" fill="#2e3338"/>
<rect x="703" y="186" width="5" height="3" fill="#4aa84a"/>
<rect x="711" y="164" width="1" height="16" fill="#2e3338"/>
<rect x="709" y="174" width="5" height="6" fill="#4aa84a"/>
<rect x="718" y="161" width="1" height="22" fill="#2e3338"/>
<rect x="716" y="172" width="5" height="9" fill="#df514c"/>
<rect x="724" y="163" width="1" height="19" fill="#2e3338"/>
<rect x="722" y="177" width="5" height="3" fill="#4aa84a"/>
<rect x="730" y="164" width="1" height="26" fill="#2e3338"/>
<rect x="728" y="173" width="5" height="13" fill="#df514c"/>
<rect x="736" y="153" width="1" height="24" fill="#2e3338"/>
<rect x="734" y="160" width="5" height="17" fill="#4aa84a"/>
<rect x="742" y="143" width="1" height="21" fill="#2e3338"/>
<rect x="740" y="146" width="5" height="9" fill="#4aa84a"/>
<rect x="748" y="136" width="1" height="20" fill="#2e3338"/>
<rect x="746" y="146" width="5" height="8" fill="#df514c"/>
<rect x="754" y="138" width="1" height="47" fill="#2e3338"/>
<rect x="752" y="140" width="5" height="12" fill="#df514c"/>
<rect x="761" y="155" width="1" height="20" fill="#2e3338"/>
<rect x="759" y="158" width="5" height="11" fill="#df514c"/>
<rect x="767" y="146" width="1" height="28" fill="#2e3338"/>
<rect x="765" y="152" width="5" height="15" fill="#4aa84a"/>
<rect x="773" y="132" width="1" height="21" fill="#2e3338"/>
<rect x="771" y="145" width="5" height="4" fill="#df514c"/>
<rect x="779" y="105" width="1" height="46" fill="#2e3338"/>
<rect x="777" y="115" width="5" height="31" fill="#4aa84a"/>
<rect x="785" y="114" width="1" height="21" fill="#2e3338"/>
<rect x="783" y="122" width="5" height="2" fill="#4aa84a"/>
<rect x="791" y="112" width="1" height="34" fill="#2e3338"/>
<rect x="789" y="115" width="5" height="24" fill="#df514c"/>
<rect x="798" y="124" width="1" height="22" fill="#2e3338"/>
<rect x="796" y="133" width="5" height="3" fill="#df514c"/>
<rect x="804" y="128" width="1" height="21" fill="#2e3338"/>
<rect x="802" y="132" width="5" height="13" fill="#df514c"/>
<rect x="810" y="129" width="1" height="18" fill="#2e3338"/>
<rect x="808" y="143" width="5" height="3" fill="#df514c"/>
<rect x="816" y="134" width="1" height="19" fill="#2e3338"/>
<rect x="814" y="141" width="5" height="2" fill="#df514c"/>
<rect x="822" y="135" width="1" height="30" fill="#2e3338"/>
<rect x="820" y="141" width="5" height="15" fill="#df514c"/>
<rect x="828" y="138" width="1" height="23" fill="#2e3338"/>
<rect x="826" y="142" width="5" height="13" fill="#4aa84a"/>
<rect x="834" y="135" width="1" height="15" fill="#2e3338"/>
<rect x="832" y="145" width="5" height="3" fill="#df514c"/>
<rect x="841" y="145" width="1" height="22" fill="#2e3338"/>
<rect x="839" y="146" width="5" height="13" fill="#df514c"/>
<rect x="847" y="137" width="1" height="23" fill="#2e3338"/>
<rect x="845" y="140" width="5" height="18" fill="#4aa84a"/>
<rect x="853" y="132" width="1" height="15" fill="#2e3338"/>
<rect x="851" y="141" width="5" height="3" fill="#df514c"/>
<rect x="859" y="123" width="1" height="17" fill="#2e3338"/>
<rect x="857" y="130" width="5" height="10" fill="#4aa84a"/>
<rect x="865" y="118" width="1" height="15" fill="#2e3338"/>
<rect x="863" y="119" width="5" height="11" fill="#df514c"/>
<rect x="871" y="134" width="1" height="28" fill="#2e3338"/>
<rect x="869" y="134" width="5" height="20" fill="#df514c"/>
<rect x="878" y="148" width="1" height="16" fill="#2e3338"/>
<rect x="876" y="151" width="5" height="7" fill="#df514c"/>
<rect x="884" y="154" width="1" height="26" fill="#2e3338"/>
<rect x="882" y="155" width="5" height="4" fill="#df514c"/>
<rect x="890" y="149" width="1" height="31" fill="#2e3338"/>
<rect x="888" y="156" width="5" height="21" fill="#df514c"/>
<rect x="896" y="139" width="1" height="28" fill="#2e3338"/>
<rect x="894" y="144" width="5" height="4" fill="#df514c"/>
<rect x="902" y="132" width="1" height="22" fill="#2e3338"/>
<rect x="900" y="137" width="5" height="11" fill="#4aa84a"/>
<rect x="908" y="135" width="1" height="30" fill="#2e3338"/>
<rect x="906" y="139" width="5" height="20" fill="#df514c"/>
<rect x="914" y="141" width="1" height="16" fill="#2e3338"/>
<rect x="912" y="151" width="5" height="6" fill="#4aa84a"/>
<rect x="921" y="157" width="1" height="14" fill="#2e3338"/>
<rect x="919" y="166" width="5" height="3" fill="#4aa84a"/>
<rect x="927" y="154" width="1" height="24" fill="#2e3338"/>
<rect x="925" y="160" width="5" height="15" fill="#df514c"/>
<rect x="933" y="170" width="1" height="18" fill="#2e3338"/>
<rect x="931" y="175" width="5" height="10" fill="#df514c"/>
<rect x="939" y="177" width="1" height="15" fill="#2e3338"/>
<rect x="937" y="187" width="5" height="5" fill="#df514c"/>
<rect x="945" y="180" width="1" height="14" fill="#2e3338"/>
<rect x="943" y="186" width="5" height="2" fill="#4aa84a"/>
<rect x="951" y="173" width="1" height="20" fill="#2e3338"/>
<rect x="949" y="187" width="5" height="2" fill="#df514c"/>
<rect x="958" y="180" width="1" height="24" fill="#2e3338"/>
<rect x="956" y="192" width="5" height="2" fill="#4aa84a"/>
<rect x="964" y="181" width="1" height="32" fill="#2e3338"/>
<rect x="962" y="186" width="5" height="20" fill="#df514c"/>
<rect x="970" y="186" width="1" height="24" fill="#2e3338"/>
<rect x="968" y="190" width="5" height="17" fill="#4aa84a"/>
<rect x="976" y="159" width="1" height="38" fill="#2e3338"/>
<rect x="974" y="164" width="5" height="27" fill="#4aa84a"/>
<rect x="982" y="100" width="1" height="47" fill="#2e3338"/>
<rect x="980" y="113" width="5" height="34" fill="#4aa84a"/>
<rect x="988" y="98" width="1" height="32" fill="#2e3338"/>
<rect x="986" y="102" width="5" height="26" fill="#df514c"/>
<rect x="994" y="110" width="1" height="22" fill="#2e3338"/>
<rect x="992" y="118" width="5" height="7" fill="#4aa84a"/>
<rect x="1001" y="79" width="1" height="52" fill="#2e3338"/>
<rect x="999" y="104" width="5" height="19" fill="#df514c"/>
<rect x="1007" y="92" width="1" height="27" fill="#2e3338"/>
<rect x="1005" y="96" width="5" height="22" fill="#4aa84a"/>
<rect x="1013" y="61" width="1" height="45" fill="#2e3338"/>
<rect x="1011" y="65" width="5" height="30" fill="#4aa84a"/>
<rect x="1019" y="52" width="1" height="31" fill="#2e3338"/>
<rect x="1017" y="61" width="5" height="13" fill="#df514c"/>
<rect x="1025" y="66" width="1" height="17" fill="#2e3338"/>
<rect x="1023" y="76" width="5" height="3" fill="#df514c"/>
<rect x="1031" y="64" width="1" height="17" fill="#2e3338"/>
<rect x="1029" y="74" width="5" height="7" fill="#4aa84a"/>
<rect x="1038" y="57" width="1" height="39" fill="#2e3338"/>
<rect x="1036" y="69" width="5" height="5" fill="#df514c"/>
<rect x="1044" y="63" width="1" height="18" fill="#2e3338"/>
<rect x="1042" y="65" width="5" height="3" fill="#df514c"/>
<rect x="1050" y="43" width="1" height="35" fill="#2e3338"/>
<rect x="1048" y="51" width="5" height="24" fill="#4aa84a"/>
<rect x="1056" y="46" width="1" height="31" fill="#2e3338"/>
<rect x="1054" y="49" width="5" height="26" fill="#df514c"/>
<rect x="1062" y="66" width="1" height="17" fill="#2e3338"/>
<rect x="1060" y="69" width="5" height="11" fill="#df514c"/>
<rect x="1068" y="60" width="1" height="14" fill="#2e3338"/>
<rect x="1066" y="64" width="5" height="10" fill="#4aa84a"/>
<rect x="1075" y="53" width="1" height="21" fill="#2e3338"/>
<rect x="1073" y="60" width="5" height="4" fill="#df514c"/>
<rect x="1081" y="62" width="1" height="10" fill="#2e3338"/>
<rect x="1079" y="64" width="5" height="3" fill="#df514c"/>
<rect x="1087" y="50" width="1" height="18" fill="#2e3338"/>
<rect x="1085" y="55" width="5" height="13" fill="#4aa84a"/>
<rect x="1093" y="51" width="1" height="39" fill="#2e3338"/>
<rect x="1091" y="55" width="5" height="30" fill="#df514c"/>
<rect x="1099" y="84" width="1" height="40" fill="#2e3338"/>
<rect x="1097" y="86" width="5" height="35" fill="#df514c"/>
<rect x="1105" y="109" width="1" height="15" fill="#2e3338"/>
<rect x="1103" y="114" width="5" height="10" fill="#df514c"/>
<rect x="1111" y="103" width="1" height="39" fill="#2e3338"/>
<rect x="1109" y="115" width="5" height="13" fill="#df514c"/>
<rect x="1118" y="123" width="1" height="26" fill="#2e3338"/>
<rect x="1116" y="128" width="5" height="4" fill="#df514c"/>
<rect x="1124" y="119" width="1" height="23" fill="#2e3338"/>
<rect x="1122" y="126" width="5" height="4" fill="#df514c"/>
<rect x="1130" y="124" width="1" height="22" fill="#2e3338"/>
<rect x="1128" y="130" width="5" height="13" fill="#df514c"/>
<rect x="1136" y="112" width="1" height="40" fill="#2e3338"/>
<rect x="1134" y="114" width="5" height="32" fill="#4aa84a"/>
<rect x="1142" y="98" width="1" height="15" fill="#2e3338"/>
<rect x="1140" y="103" width="5" height="10" fill="#4aa84a"/>
<rect x="1148" y="75" width="1" height="39" fill="#2e3338"/>
<rect x="1146" y="85" width="5" height="18" fill="#4aa84a"/>
<rect x="1155" y="66" width="1" height="30" fill="#2e3338"/>
<rect x="1153" y="73" width="5" height="11" fill="#4aa84a"/>
<rect x="1161" y="57" width="1" height="17" fill="#2e3338"/>
<rect x="1159" y="69" width="5" height="3" fill="#df514c"/>
<rect x="1167" y="67" width="1" height="18" fill="#2e3338"/>
<rect x="1165" y="69" width="5" height="13" fill="#df514c"/>
<rect x="1173" y="68" width="1" height="16" fill="#2e3338"/>
<rect x="1171" y="76" width="5" height="6" fill="#4aa84a"/>
<rect x="1179" y="66" width="1" height="13" fill="#2e3338"/>
<rect x="1177" y="71" width="5" height="3" fill="#df514c"/>
<rect x="1185" y="66" width="1" height="17" fill="#2e3338"/>
<rect x="1183" y="74" width="5" height="3" fill="#df514c"/>
<rect x="1191" y="80" width="1" height="39" fill="#2e3338"/>
<rect x="1189" y="83" width="5" height="30" fill="#df514c"/>
<rect x="1198" y="103" width="1" height="19" fill="#2e3338"/>
<rect x="1196" y="107" width="5" height="12" fill="#4aa84a"/>
</g>
<line x1="141.4" y1="358.9" x2="1099" y2="5.4" stroke="#e8162b" stroke-width="3" stroke-linecap="round"/>
<line x1="238.6" y1="455" x2="1202" y2="95.85" stroke="#0fa04e" stroke-width="3.4"/>
<ellipse cx="968" cy="195.6" rx="33.5" ry="22.1" fill="none" stroke="#2a9fe6" stroke-width="1.1"/>
<ellipse cx="1129" cy="139.9" rx="26.1" ry="23" fill="none" stroke="#2a9fe6" stroke-width="1.1"/>
<line x1="972.8" y1="218.9" x2="1040.5" y2="267.9" stroke="#000" stroke-width="3" stroke-linecap="round"/>
<line x1="1045.9" y1="264.4" x2="1138.6" y2="166.8" stroke="#000" stroke-width="3" stroke-linecap="round"/>
<text x="1012.4" y="292.6" font-size="21.5" fill="#000" stroke="#000" stroke-width="0.7" textLength="141.2" lengthAdjust="spacingAndGlyphs">FALSE BREAK</text>
<text x="1012.4" y="322.7" font-size="21.5" fill="#000" stroke="#000" stroke-width="0.7" textLength="66.2" lengthAdjust="spacingAndGlyphs">DOWN</text>
<g fill="#555">
<rect x="3" y="527" width="1" height="5"/>
<rect x="164" y="527" width="1" height="5"/>
<rect x="287" y="527" width="1" height="5"/>
<rect x="407" y="527" width="1" height="5"/>
<rect x="551" y="527" width="1" height="5"/>
<rect x="674" y="527" width="1" height="5"/>
<rect x="791" y="527" width="1" height="5"/>
<rect x="908" y="527" width="1" height="5"/>
<rect x="1044" y="527" width="1" height="5"/>
<rect x="1162" y="527" width="1" height="5"/>
</g>
<g font-size="12" fill="#6e6e6e">
<text x="-1" y="546.5" text-anchor="start">ep</text>
<text x="164" y="546.5" text-anchor="middle">Nov</text>
<text x="287" y="546.5" text-anchor="middle">Dec</text>
<text x="406" y="546.5" text-anchor="middle">2019</text>
<text x="550.5" y="546.5" text-anchor="middle">Feb</text>
<text x="673" y="546.5" text-anchor="middle">Mar</text>
<text x="790" y="546.5" text-anchor="middle">Apr</text>
<text x="907" y="546.5" text-anchor="middle">May</text>
<text x="1043" y="546.5" text-anchor="middle">Jun</text>
<text x="1160" y="546.5" text-anchor="middle">Jul</text>
</g>
<rect x="10.5" y="459.5" width="69" height="23" fill="#f3f3f3" />
<rect x="10.5" y="481.5" width="69" height="1.5" fill="#e2e2e2" />
<rect x="11" y="460" width="68" height="22" fill="#fff" />
<text x="21" y="475.9" font-size="12.2" fill="#333" textLength="47.3" lengthAdjust="spacingAndGlyphs">VOLUME</text>
<text x="1056" y="542.2" font-size="18" fill="#c4c4c4" textLength="157" lengthAdjust="spacingAndGlyphs">Activate Windows</text>
<text x="1056" y="563" font-size="14" fill="#c8c8c8">Go to PC settings to activate</text>
<rect x="0" y="556" width="1202" height="1" fill="#e4e4e4"/>
</svg>
</body></html>
